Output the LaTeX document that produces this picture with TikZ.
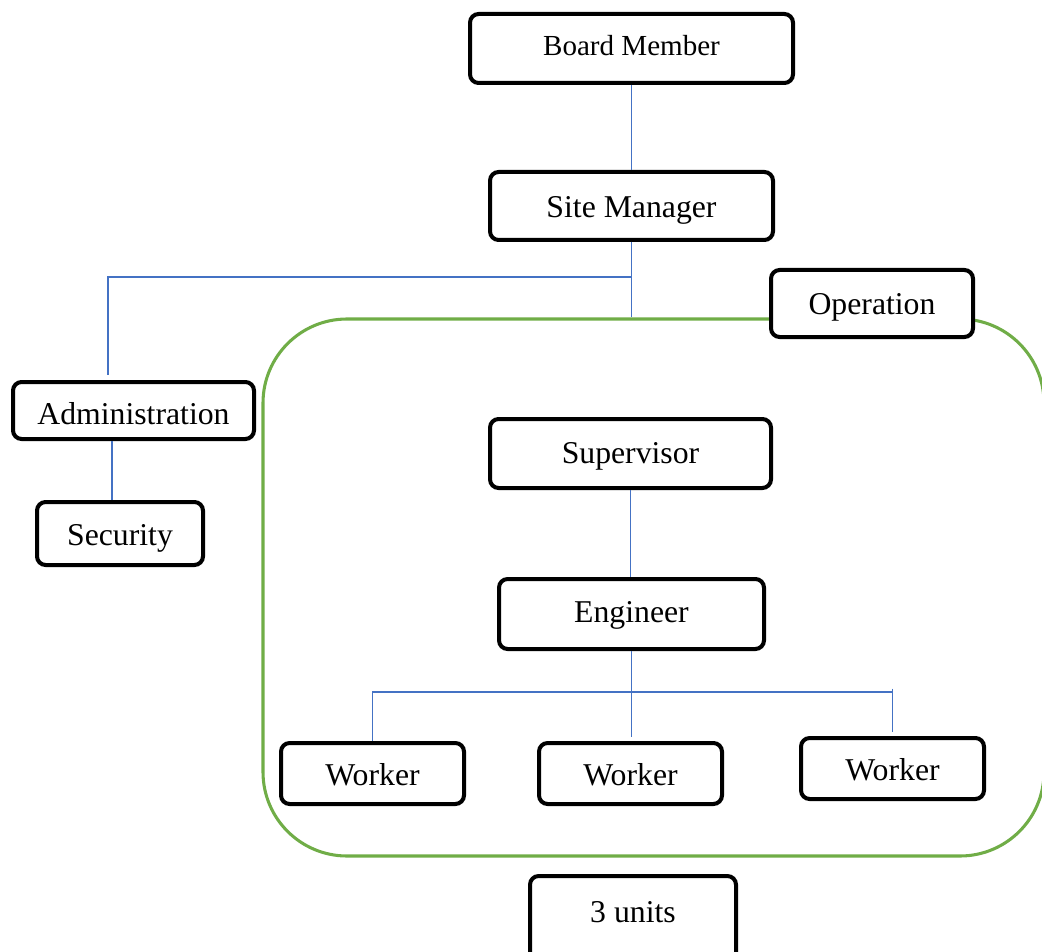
\documentclass[tikz,border=0pt]{standalone}
\usepackage{fontspec}
\setmainfont{Liberation Serif}
\begin{document}
\begin{tikzpicture}[x=0.75pt,y=-0.75pt,
  unitbox/.style={draw=black, line width=3pt, rounded corners=6.5pt, fill=white,
    inner sep=0pt, text height=22pt, text depth=5.2pt,
    font=\fontsize{23.8pt}{28pt}\selectfont},
  wh/.style 2 args={minimum width=#1*0.75pt, minimum height=#2*0.75pt},
  link/.style={draw={rgb,255:red,68;green,114;blue,196}, line width=1.3pt},
  frame/.style={draw={rgb,255:red,112;green,173;blue,71}, line width=2.3pt,
    rounded corners=63pt, inner sep=0pt}]
\useasboundingbox (0,0) rectangle (1042,952);

% operations group
\node[frame, wh={781}{537}] (ops) at (653.5,587.5) {};

% boxes
\node[unitbox, wh={323}{69}, text height=16.2pt, font=\fontsize{21.8pt}{26pt}\selectfont] (board) at (631.5,48.5) {Board Member};
\node[unitbox, wh={283}{68}] (site) at (631.5,206) {Site Manager};
\node[unitbox, wh={202}{67}] (oper) at (872,303.5) {Operation};
\node[unitbox, wh={241}{57}, text height=26.5pt] (adm) at (133.5,410.5) {Administration};
\node[unitbox, wh={166}{63}, text height=23.7pt] (sec) at (120,533.5) {Security};
\node[unitbox, wh={281}{69}, text height=20.7pt] (sup) at (630.5,453.5) {Supervisor};
\node[unitbox, wh={265}{70}, text height=17.7pt] (eng) at (631.5,614) {Engineer};
\node[unitbox, wh={183}{61}, text height=23.7pt] (w1) at (372.5,773.5) {Worker};
\node[unitbox, wh={183}{61}, text height=23.7pt] (w2) at (630.5,773.5) {Worker};
\node[unitbox, wh={183}{61}, text height=23.7pt] (w3) at (892.5,768.5) {Worker};
\node[unitbox, wh={206}{90}, text height=16.2pt, text depth=14pt] (units) at (633,921) {3 units};

% connectors
\coordinate (abus) at (108,277);
\coordinate (wbus) at (630,692);
\draw[link] (board.south) -- (board.south |- site.north);
\draw[link] (site.south) -- (site.south |- ops.north);
\draw[link] (site.south |- abus) -- (abus) -- ([yshift=3.5pt]abus |- adm.north);
\draw[link] ([xshift=-6pt]adm.south -| sec.north) -- ([xshift=-6pt]sec.north);
\draw[link] (sup.south) -- (sup.south |- eng.north);
\draw[link, shorten >=3pt] (eng.south) -- (eng.south |- w2.north);
\draw[link] (w1.north) -- (w1.north |- wbus) -- (w3.north |- wbus);
\draw[link, shorten >=3pt] ([yshift=2.5pt]w3.north |- wbus) -- (w3.north);
\end{tikzpicture}
\end{document}
